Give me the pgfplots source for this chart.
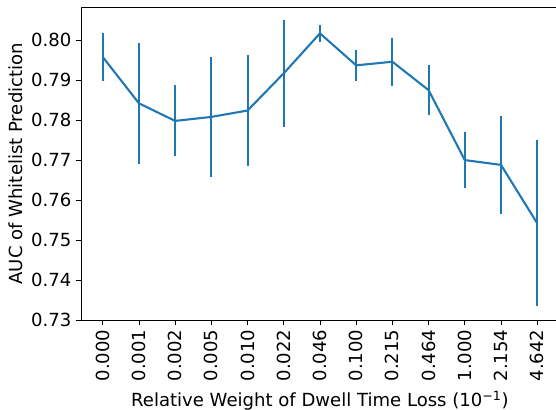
\documentclass[border=0pt]{standalone}
\usepackage{fontspec}
\setmainfont{DejaVu Sans}
\usepackage{pgfplots}
\pgfplotsset{compat=1.18}
\definecolor{mplblue}{HTML}{1F77B4}
\begin{document}
\begin{tikzpicture}
\useasboundingbox (-58.32bp,-64.8bp) rectangle (342bp,230.4bp);
\begin{axis}[
  at={(0,0)}, anchor=south west,
  scale only axis,
  width=344.1bp, height=225.1bp,
  xmin=-0.6, xmax=12.6,
  ymin=0.73, ymax=0.8082,
  xtick={0,1,2,3,4,5,6,7,8,9,10,11,12},
  xticklabels={0.000,0.001,0.002,0.005,0.010,0.022,0.046,0.100,0.215,0.464,1.000,2.154,4.642},
  ytick={0.73,0.74,0.75,0.76,0.77,0.78,0.79,0.80},
  yticklabel style={/pgf/number format/.cd, fixed, fixed zerofill, precision=2, assume math mode=true},
  xticklabel style={rotate=90, anchor=east},
  tick label style={font=\fontsize{13bp}{15bp}\selectfont},
  label style={font=\fontsize{13bp}{15bp}\selectfont},
  ylabel style={yshift=-1bp},
  tick align=outside,
  major tick length=3.5bp,
  every tick/.style={black, line width=0.6bp},
  axis line style={line width=0.6bp},
  xtick pos=bottom, ytick pos=left,
  xlabel={Relative Weight of Dwell Time Loss (10\textsuperscript{−1})},
  ylabel={AUC of Whitelist Prediction},
  scaled y ticks=false,
]
\addplot[mplblue, line width=1.5bp, no markers,
  error bars/.cd, y dir=both, y explicit,
  error bar style={line width=1.5bp, mplblue}, error mark=none]
  coordinates {
  (0,0.7958) +- (0,0.0060)
  (1,0.7842) +- (0,0.0152)
  (2,0.7798) +- (0,0.0089)
  (3,0.7808) +- (0,0.0150)
  (4,0.7824) +- (0,0.0138)
  (5,0.7917) +- (0,0.0133)
  (6,0.8017) +- (0,0.0021)
  (7,0.7937) +- (0,0.0038)
  (8,0.7946) +- (0,0.0060)
  (9,0.7875) +- (0,0.0063)
  (10,0.7700) +- (0,0.0070)
  (11,0.7688) +- (0,0.0122)
  (12,0.7542) +- (0,0.0208)
  };
\end{axis}
\end{tikzpicture}
\end{document}
